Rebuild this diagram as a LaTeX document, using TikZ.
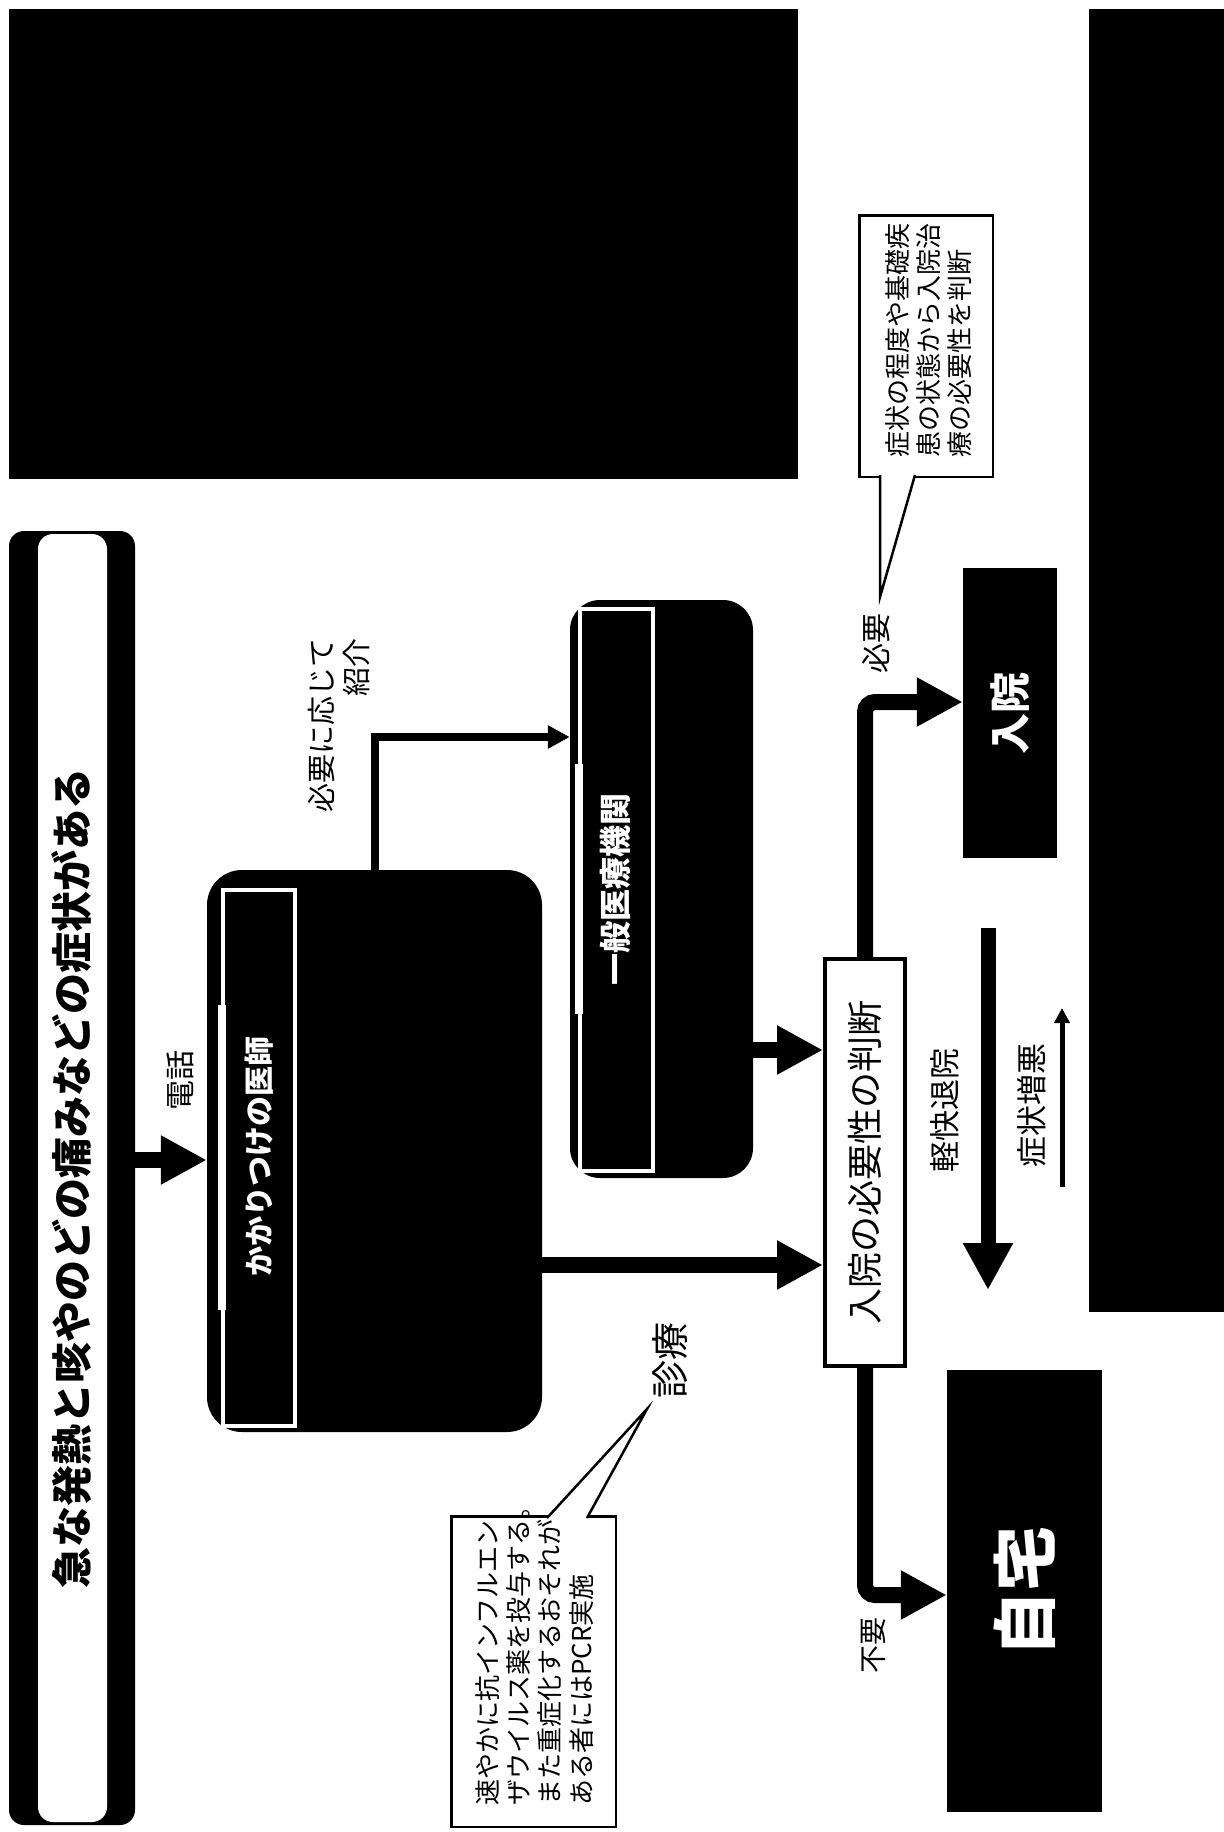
\documentclass[tikz,border=0pt]{standalone}
\usepackage{fontspec}
\setmainfont{Noto Sans CJK JP}
\usepackage{graphicx}
\usetikzlibrary{arrows.meta,positioning}

\newcommand{\upword}[1]{\rotatebox{90}{#1}}
\newcommand{\uplines}[2]{\rotatebox{90}{\begin{tabular}{@{}#1@{}}#2\end{tabular}}}

\begin{document}
\begin{tikzpicture}[
  x=1pt, y=-1pt,
  darkbox/.style={
    rectangle,
    fill=black,
    inner sep=0pt,
    text=white,
    font=\bfseries
  },
  roundedbox/.style={darkbox, rounded corners=#1},
  frame/.style={draw=white, line width=4pt},
  judgebox/.style={
    rectangle,
    draw,
    fill=white,
    line width=4pt,
    inner sep=0pt,
    font=\fontsize{36}{36}\selectfont
  },
  notebox/.style={rectangle, draw, fill=white, line width=2.5pt, inner sep=0pt},
  notetext/.style={inner sep=0pt, anchor=south, font=\fontsize{26}{30}\selectfont},
  tag/.style={inner sep=0pt, font=\fontsize{30}{35}\selectfont},
  tail/.style={draw, fill=white, line width=2.5pt},
  flow/.style={line width=16pt, -{Triangle[length=46pt,width=46pt]}},
  thinflow/.style={line width=8pt, -{Triangle[length=22pt,width=22pt]}}
]
\useasboundingbox (0,0) rectangle (1224,1832);

% blacked-out areas
\fill (9,9) rectangle (798,479);
\fill (1089,9) rectangle (1224,1312);

\node[roundedbox=15pt, text=black, minimum width=126pt, minimum height=1294pt,
  font=\fontsize{41}{41}\selectfont\bfseries,
  path picture={\fill[white] ([xshift=29pt,yshift=3pt]path picture bounding box.south west)
    rectangle ([xshift=-28pt,yshift=-3pt]path picture bounding box.north east);}]
  (symptom) at (72,1178) {\upword{急な発熱と咳やのどの痛みなどの症状がある}};

\node[roundedbox=35pt, minimum width=335pt, minimum height=562pt] (clinic) at (374.5,1151) {};
\draw[frame] ([shift={(16,20)}]clinic.north west) rectangle ([shift={(88,556)}]clinic.north west);
\fill[white] ([shift={(11,135)}]clinic.north west) rectangle ([shift={(19,440)}]clinic.north west);
\node[darkbox, font=\fontsize{30}{30}\selectfont\bfseries] (clinictext)
  at ([shift={(52,287)}]clinic.north west) {\upword{かかりつけの医師}};

\node[roundedbox=30pt, minimum width=183pt, minimum height=578pt] (general) at (661.5,889) {};
\draw[frame] ([shift={(10,9)}]general.north west) rectangle ([shift={(83,571)}]general.north west);
\fill[white] ([shift={(5,164)}]general.north west) rectangle ([shift={(13,414)}]general.north west);
\node[darkbox, font=\fontsize{32}{32}\selectfont\bfseries] (generaltext)
  at ([shift={(46,290)}]general.north west) {\upword{一般医療機関}};

\node[judgebox, minimum width=80pt, minimum height=407pt] (judge) at (865,1162.5)
  {\upword{入院の必要性の判断}};

\node[darkbox, minimum width=94pt, minimum height=290pt, font=\fontsize{41}{41}\selectfont\bfseries]
  (admit) at (1010,713) {\upword{入院}};

\node[darkbox, minimum width=155pt, minimum height=442pt, font=\fontsize{65}{65}\selectfont\bfseries]
  (home) at (1024.5,1591) {\upword{自宅}};

% labels
\node[tag] (phonelabel) at (180,1080) {\upword{電話}};
\node[tag, font=\fontsize{29}{35}\selectfont] (referlabel) at (343,725) {\uplines{r}{必要に応じて\\紹介}};
\node[tag, font=\fontsize{38}{38}\selectfont] (consultlabel) at (670,1360) {\upword{診療}};
\node[tag] (needlabel) at (876,643) {\upword{必要}};
\node[tag, font=\fontsize{28}{28}\selectfont] (noneedlabel) at (873,1645) {\upword{不要}};
\node[tag, font=\fontsize{31}{31}\selectfont] (relieflabel) at (945,1110) {\upword{軽快退院}};
\node[tag, font=\fontsize{31}{31}\selectfont] (worselabel) at (1032,1105) {\upword{症状増悪}};

% callouts
\node[notebox, minimum width=133.5pt, minimum height=261.5pt] (note1) at (926,346) {};
\coordinate (note1tip) at (880,597);
\filldraw[tail] ([xshift=22pt,yshift=3pt]note1.south west) -- (note1tip)
  -- ([xshift=57pt,yshift=3pt]note1.south west);
\node[notetext] (note1text) at (932,458)
  {\uplines{l}{症状の程度や基礎疾\\患の状態から入院治\\療の必要性を判断}};

\node[notebox, minimum width=164.5pt, minimum height=310.5pt] (note2) at (533.5,1671.5) {};
\coordinate (note2tip) at (647,1409);
\filldraw[tail] ([xshift=97pt,yshift=-3pt]note2.north west) -- (note2tip)
  -- ([xshift=137pt,yshift=-3pt]note2.north west);
\node[notetext, font=\fontsize{26}{31}\selectfont] (note2text) at (538,1806)
  {\uplines{l}{速やかに抗インフルエン\\ザウイルス薬を投与する。\\また重症化するおそれが\\ある者にはPCR実施}};

% Arrows
\coordinate (phone) at (0,1160);
\coordinate (refer) at (0,737);
\coordinate (consult) at (0,1265);
\coordinate (second) at (0,1050);
\coordinate (upline) at (0,702);
\coordinate (downline) at (0,1595);
\coordinate (relieftop) at (988,928);
\coordinate (reliefend) at (988,1290);
\coordinate (worsebot) at (1062,1187);
\coordinate (worsetop) at (1062,1008);

\draw[flow] (symptom.east |- phone) -- (clinic.west |- phone);
\draw[thinflow] (clinic.north) |- (general.west |- refer);
\draw[flow] (clinic.east |- consult) -- (judge.west |- consult);
\draw[flow] (general.east |- second) -- (judge.west |- second);
\draw[flow, rounded corners=10pt] (judge.north) |- (admit.west |- upline);
\draw[flow, rounded corners=10pt] (judge.south) |- (home.west |- downline);
\draw[line width=15pt, -{Triangle[length=47pt,width=47pt]}] (relieftop) -- (reliefend);
\draw[line width=5pt, -{Triangle[length=15pt,width=15pt]}] (worsebot) -- (worsetop);

\end{tikzpicture}
\end{document}
